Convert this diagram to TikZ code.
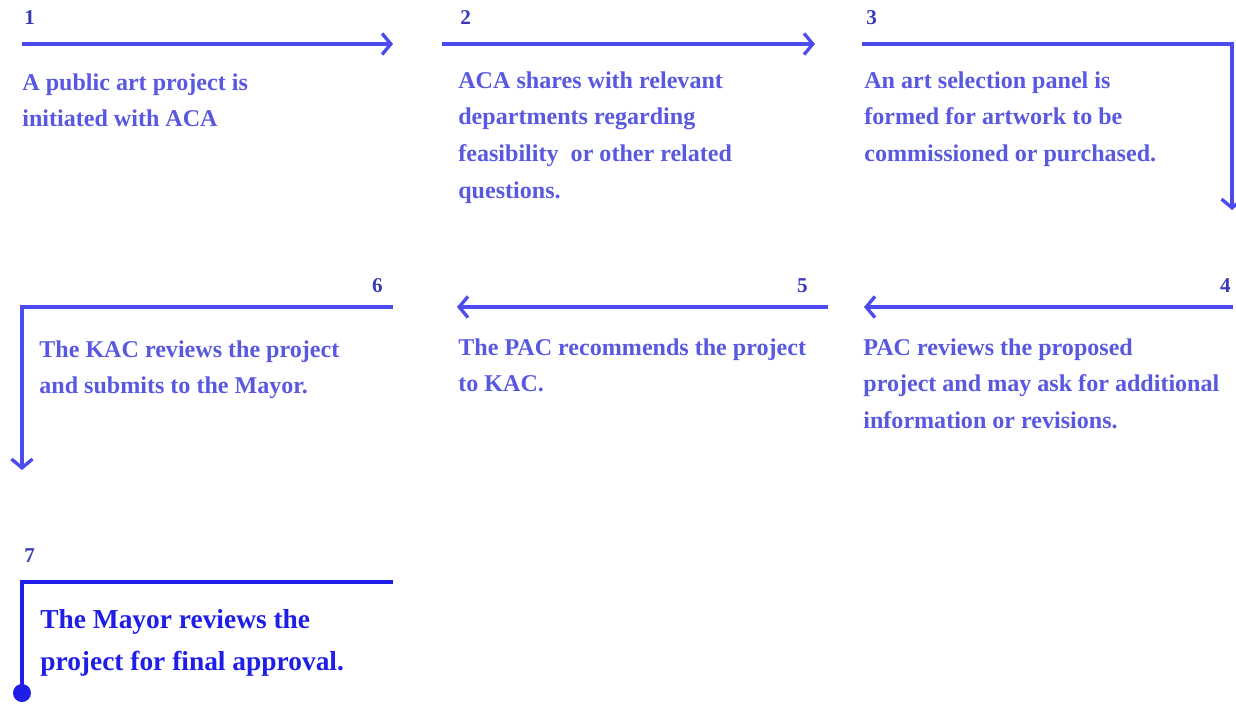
\documentclass[tikz,border=0pt]{standalone}
\usepackage{fontspec}
\setmainfont{Liberation Serif}
\usepackage{xcolor}
\usetikzlibrary{positioning, arrows.meta}

\definecolor{flowblue}{HTML}{4B4BEE}
\definecolor{textblue}{HTML}{5858E0}
\definecolor{numblue}{HTML}{3A3AB8}
\definecolor{finalblue}{HTML}{1E1EE6}

\begin{document}
\begin{tikzpicture}[
                flow/.style={-{Straight Barb[length=5pt, width=12pt]}, line width=1.9pt, flowblue},
                final_flow/.style={line width=2.8pt, finalblue},
                num_text/.style={font=\fontsize{12}{14}\selectfont\bfseries, color=numblue, inner sep=0pt},
                step_text/.style={anchor=north west, align=left, inner sep=0pt, font=\fontsize{13.7}{21}\selectfont\bfseries, color=textblue},
                final_text/.style={anchor=north west, align=left, inner sep=0pt, font=\fontsize{15.6}{24}\selectfont\bfseries, color=finalblue}
            ]
                \useasboundingbox (0,0) rectangle (24.72,-14.12);

                % Step 1
                \node[num_text, anchor=base west] (num1) at (0.48,-0.5) {1};
                \coordinate (s1a) at (0.44,-0.88);
                \coordinate (s1b) at (7.86,-0.88);
                \draw[flow] (s1a) -- (s1b);
                \node[step_text] (txt1) at (0.44,-1.46) {A public art project is\\initiated with ACA};

                % Step 2
                \node[num_text, anchor=base west] (num2) at (9.2,-0.5) {2};
                \coordinate (s2a) at (8.84,-0.88);
                \coordinate (s2b) at (16.3,-0.88);
                \draw[flow] (s2a) -- (s2b);
                \node[step_text] (txt2) at (9.16,-1.42) {ACA shares with relevant\\departments regarding\\feasibility ~or other related\\questions.};

                % Step 3 (turns down)
                \node[num_text, anchor=base west] (num3) at (17.32,-0.5) {3};
                \coordinate (s3a) at (17.24,-0.88);
                \coordinate (s3c) at (24.64,-0.88);
                \coordinate (s3b) at (24.64,-4.2);
                \draw[flow] (s3a) -- (s3c) -- (s3b);
                \node[step_text] (txt3) at (17.28,-1.42) {An art selection panel is\\formed for artwork to be\\commissioned or purchased.};

                % Step 4 (right to left)
                \node[num_text, anchor=base east] (num4) at (24.62,-5.84) {4};
                \coordinate (s4a) at (24.66,-6.14);
                \coordinate (s4b) at (17.28,-6.14);
                \draw[flow] (s4a) -- (s4b);
                \node[step_text] (txt4) at (17.26,-6.76) {PAC reviews the proposed\\project and may ask for additional\\information or revisions.};

                % Step 5
                \node[num_text, anchor=base east] (num5) at (16.16,-5.84) {5};
                \coordinate (s5a) at (16.56,-6.14);
                \coordinate (s5b) at (9.14,-6.14);
                \draw[flow] (s5a) -- (s5b);
                \node[step_text] (txt5) at (9.16,-6.76) {The PAC recommends the project\\to KAC.};

                % Step 6 (turns down)
                \node[num_text, anchor=base east] (num6) at (7.66,-5.84) {6};
                \coordinate (s6a) at (7.86,-6.14);
                \coordinate (s6c) at (0.44,-6.14);
                \coordinate (s6b) at (0.44,-9.4);
                \draw[flow] (s6a) -- (s6c) -- (s6b);
                \node[step_text] (txt6) at (0.78,-6.8) {The KAC reviews the project\\and submits to the Mayor.};

                % Step 7 - final
                \node[num_text, anchor=base west] (num7) at (0.48,-11.24) {7};
                \coordinate (s7a) at (7.86,-11.64);
                \coordinate (s7c) at (0.44,-11.64);
                \coordinate (s7b) at (0.44,-13.86);
                \draw[final_flow] (s7a) -- (s7c) -- (s7b);
                \fill[finalblue] (s7b) circle (0.18);
                \node[final_text] (txt7) at (0.8,-12.18) {The Mayor reviews the\\project for final approval.};

            \end{tikzpicture}
\end{document}
